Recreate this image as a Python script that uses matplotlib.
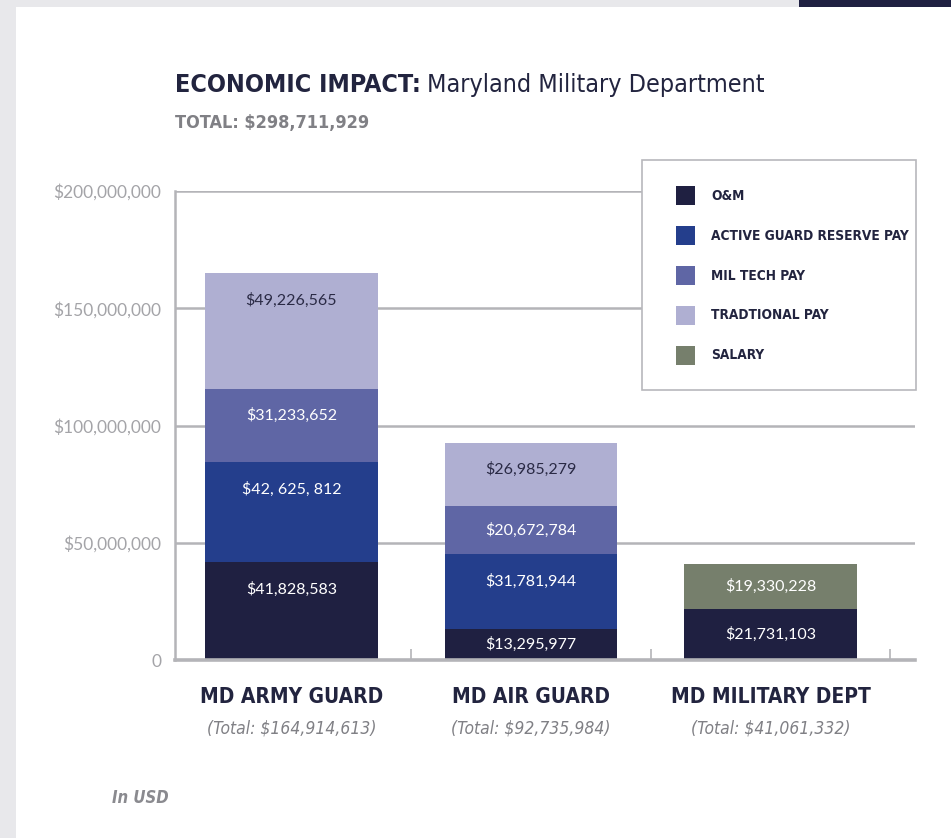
import matplotlib
matplotlib.use("Agg")
import matplotlib.pyplot as plt
from matplotlib.patches import Rectangle

groups = ["MD ARMY GUARD", "MD AIR GUARD", "MD MILITARY DEPT"]
group_totals = ["(Total: $164,914,613)", "(Total: $92,735,984)", "(Total: $41,061,332)"]

series_names = ["O&M", "ACTIVE GUARD RESERVE PAY", "MIL TECH PAY", "TRADTIONAL PAY", "SALARY"]
om = [41828583, 13295977, 21731103]
agr = [42625812, 31781944, 0]
miltech = [31233652, 20672784, 0]
traditional = [49226565, 26985279, 0]
salary = [0, 0, 19330228]

om_labels = ["$41,828,583", "$13,295,977", "$21,731,103"]
agr_labels = ["$42, 625, 812", "$31,781,944", ""]
miltech_labels = ["$31,233,652", "$20,672,784", ""]
trad_labels = ["$49,226,565", "$26,985,279", ""]
salary_labels = ["", "", "$19,330,228"]

colors = ["#1f2041", "#243e8c", "#5f66a5", "#afafd2", "#767f6c"]
text_colors = ["white", "white", "white", "#2a2a45", "white"]

y_ticks = [0, 50000000, 100000000, 150000000, 200000000]
y_ticklabels = ["0", "$50,000,000", "$100,000,000", "$150,000,000", "$200,000,000"]

cond = dict(family=["DejaVu Sans"], stretch="condensed")
plain = ["Lato", "DejaVu Sans"]
navy = "#22243f"
grid_gray = "#b4b4b8"

fig = plt.figure(figsize=(9.51, 8.38), dpi=100)
fig.patch.set_facecolor("white")

# card edges
fig.add_artist(Rectangle((0, 0), 16 / 951, 1, transform=fig.transFigure,
                         facecolor="#e8e8eb", edgecolor="none"))
fig.add_artist(Rectangle((0, 1 - 7 / 838), 1, 7 / 838, transform=fig.transFigure,
                         facecolor="#e8e8eb", edgecolor="none"))
fig.add_artist(Rectangle((799 / 951, 1 - 7 / 838), 152 / 951, 7 / 838, transform=fig.transFigure,
                         facecolor="#1f2041", edgecolor="none"))

ax = fig.add_axes([175 / 951, 1 - 660 / 838, 740 / 951, 469 / 838])
ax.set_xlim(-0.486, 2.603)
ax.set_ylim(0, 200000000)

x = range(len(groups))
width = 0.722
stack = [om, agr, miltech, traditional, salary]
stack_labels = [om_labels, agr_labels, miltech_labels, trad_labels, salary_labels]
bottom = [0, 0, 0]
for vals, labs, col, tcol in zip(stack, stack_labels, colors, text_colors):
    ax.bar(x, vals, width, bottom=bottom, color=col, zorder=3)
    for i in x:
        if vals[i] > 0:
            top = bottom[i] + vals[i]
            ypos = top - min(11500000, vals[i] / 2)
            ax.text(i, ypos, labs[i], ha="center", va="center", color=tcol,
                    fontsize=11.5, family=plain, zorder=4)
    bottom = [b + v for b, v in zip(bottom, vals)]

ax.set_yticks(y_ticks)
ax.set_yticklabels(y_ticklabels, family=plain, fontsize=12.5, color="#a4a4a8")
ax.tick_params(axis="y", length=0, pad=10)
ax.yaxis.grid(True, color=grid_gray, linewidth=1.8, zorder=0)
ax.set_xticks([0.5, 1.5, 2.5])
ax.set_xticklabels([])
ax.tick_params(axis="x", direction="in", length=8, width=1.2, color=grid_gray)

for s in ["top", "right"]:
    ax.spines[s].set_visible(False)
ax.spines["left"].set_color(grid_gray)
ax.spines["left"].set_linewidth(1.8)
ax.spines["bottom"].set_color(grid_gray)
ax.spines["bottom"].set_linewidth(2.6)
ax.spines["bottom"].set_zorder(5)

tr = ax.get_xaxis_transform()
for i in x:
    ax.text(i, -0.079, groups[i], transform=tr, ha="center", va="center",
            fontweight="bold", fontsize=15, color=navy, **cond)
    ax.text(i, -0.147, group_totals[i], transform=tr, ha="center", va="center",
            style="italic", fontsize=12.5, color="#808085", **cond)

# legend box
lx0, ly0, lx1, ly1 = 642, 160, 916, 390
fig.add_artist(Rectangle((lx0 / 951, 1 - ly1 / 838), (lx1 - lx0) / 951, (ly1 - ly0) / 838,
                         transform=fig.transFigure, facecolor="white",
                         edgecolor="#b8b8bc", linewidth=1.2, zorder=10))
for k, name in enumerate(series_names):
    yc = 196 + k * 39.8
    fig.add_artist(Rectangle((676 / 951, 1 - (yc + 9.5) / 838), 19 / 951, 19 / 838,
                             transform=fig.transFigure, facecolor=colors[k],
                             edgecolor="none", zorder=11))
    fig.text(711 / 951, 1 - yc / 838, name, ha="left", va="center",
             fontweight="bold", fontsize=9.8, color=navy, zorder=11, **cond)

# title
t1 = fig.text(175 / 951, 1 - 92 / 838, "ECONOMIC IMPACT:", ha="left", va="baseline",
              fontweight="bold", fontsize=18, color=navy, **cond)
fig.canvas.draw()
bb = t1.get_window_extent()
fig.text(bb.x1 / fig.bbox.width + 6 / 951, 1 - 92 / 838, "Maryland Military Department",
         ha="left", va="baseline", fontsize=18, color=navy, **cond)
fig.text(175 / 951, 1 - 128 / 838, "TOTAL: $298,711,929", ha="left", va="baseline",
         fontweight="bold", fontsize=13, color="#808085", **cond)
fig.text(112 / 951, 1 - 803 / 838, "In USD", ha="left", va="baseline",
         style="italic", fontweight="bold", fontsize=12, color="#8a8a8f", **cond)

fig.savefig("out.png", dpi=100)
